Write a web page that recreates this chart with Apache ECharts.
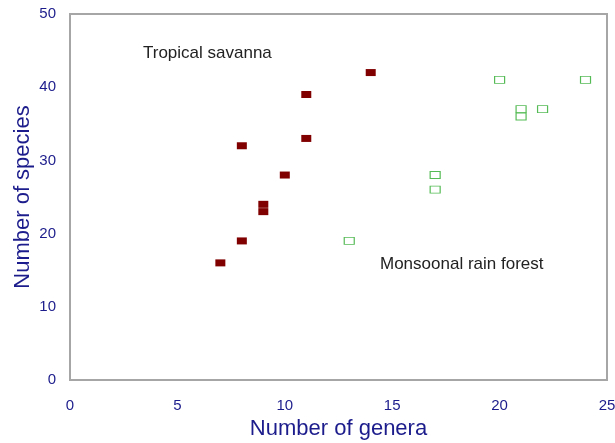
<!DOCTYPE html>
<html><head><meta charset="utf-8">
<script src="https://cdn.jsdelivr.net/npm/echarts@6/dist/echarts.min.js"></script>
<style>html,body{margin:0;padding:0;background:#fff}#c{width:615px;height:443px}</style>
</head><body><div id="c"></div>
<script>
const savannaGenera = [7, 8, 8, 9, 9, 10, 11, 11, 14];
const savannaSpecies = [16, 19, 32, 24, 23, 28, 33, 39, 42];
const forestGenera = [13, 17, 17, 20, 21, 21, 22, 24];
const forestSpecies = [19, 28, 26, 41, 37, 36, 37, 41];
const xTicks = [0, 5, 10, 15, 20, 25];
const yTicks = [0, 10, 20, 30, 40, 50];

const zip = (a, b) => a.map((v, i) => [v, b[i]]);
const chart = echarts.init(document.getElementById('c'));
const labelColor = '#1c1c8c';
const FONT = 'Liberation Sans, Arial, sans-serif';
chart.setOption({
  animation: false,
  textStyle: { fontFamily: FONT },
  grid: { left: 70, top: 14, right: 8, bottom: 63, show: true, borderColor: '#a6a6a6', borderWidth: 2, outerBoundsMode: 'none', containLabel: false },
  xAxis: {
    type: 'value', min: xTicks[0], max: xTicks[xTicks.length - 1], interval: 5,
    name: 'Number of genera', nameLocation: 'middle', nameGap: 38,
    nameTextStyle: { color: labelColor, fontSize: 22 },
    axisLine: { show: true, lineStyle: { color: '#a6a6a6', width: 2 } },
    axisTick: { show: false }, splitLine: { show: false },
    axisLabel: { color: labelColor, fontSize: 15, margin: 18 }
  },
  yAxis: {
    type: 'value', min: yTicks[0], max: yTicks[yTicks.length - 1], interval: 10,
    name: 'Number of species', nameLocation: 'middle', nameGap: 36, nameMoveOverlap: false,
    nameTextStyle: { color: labelColor, fontSize: 22 },
    axisLine: { show: true, lineStyle: { color: '#a6a6a6', width: 2 } },
    axisTick: { show: false }, splitLine: { show: false },
    axisLabel: { color: labelColor, fontSize: 15, margin: 14 }
  },
  series: [
    {
      name: 'Tropical savanna', type: 'scatter', symbol: 'rect', symbolSize: [10, 7],
      itemStyle: { color: '#800000', opacity: 1 },
      data: zip(savannaGenera, savannaSpecies)
    },
    {
      name: 'Monsoonal rain forest', type: 'scatter', symbol: 'rect', symbolSize: [10, 7],
      itemStyle: { color: '#ffffff', borderColor: '#55bb55', borderWidth: 1, opacity: 1 },
      data: zip(forestGenera, forestSpecies)
    }
  ],
  graphic: [
    { type: 'text', left: 143, top: 45, style: { text: 'Tropical savanna', fill: '#222', font: '17px ' + FONT } },
    { type: 'text', left: 380, top: 256, style: { text: 'Monsoonal rain forest', fill: '#222', font: '17px ' + FONT } }
  ]
});
</script></body></html>
